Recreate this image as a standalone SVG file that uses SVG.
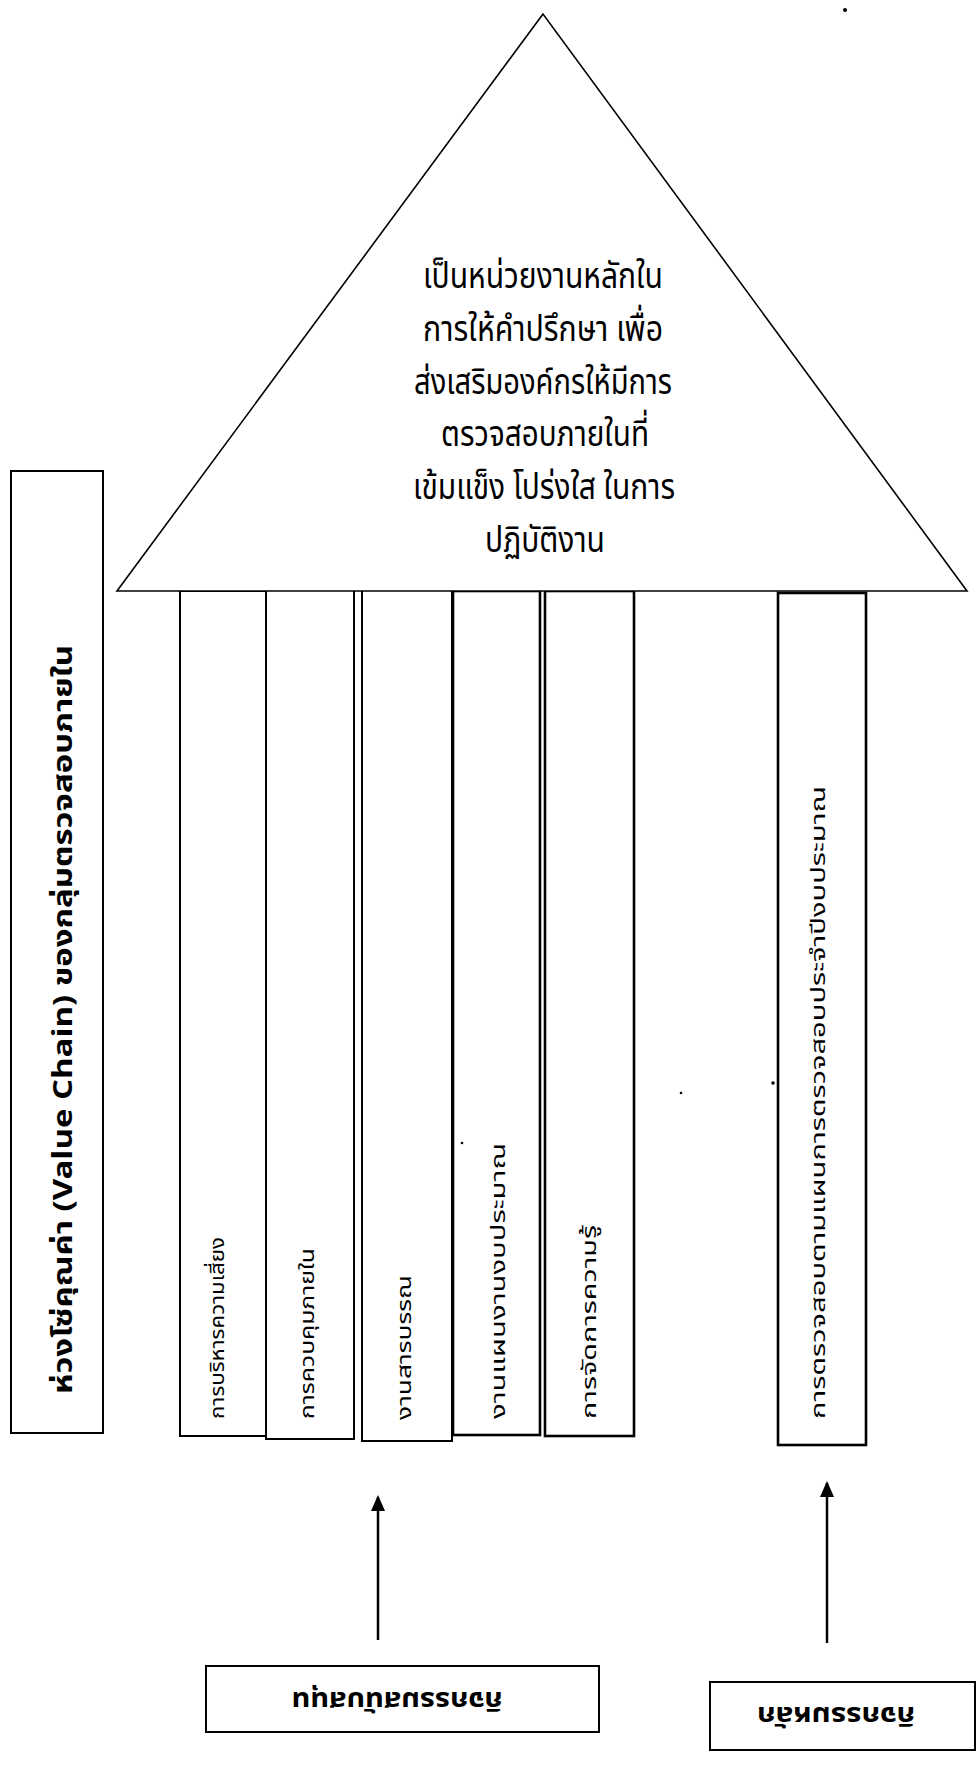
<svg xmlns="http://www.w3.org/2000/svg" width="980" height="1789" viewBox="0 0 980 1789">
<defs>
<style>
.shape{fill:#ffffff;stroke:#000000;stroke-width:2}
.thin{fill:#ffffff;stroke:#000000;stroke-width:1.6}
.t{font-family:"Noto Sans Thai","Noto Sans","DejaVu Sans",sans-serif;fill:#000000}
.tri{font-size:36px;text-anchor:middle;dominant-baseline:central}
.col{font-size:20px;text-anchor:start;dominant-baseline:central}
.side{font-size:27px;font-weight:bold;text-anchor:start;dominant-baseline:central}
.foot{font-size:27px;font-weight:bold;text-anchor:middle;dominant-baseline:central}
.conn{stroke:#000000;stroke-width:2.5;fill:none}
</style>
<marker id="arrow" markerWidth="16" markerHeight="16" refX="14" refY="8" orient="auto" markerUnits="userSpaceOnUse">
<path d="M0,1 L16,8 L0,15 Z" fill="#000000"/>
</marker>
</defs>
<rect width="980" height="1789" fill="#ffffff"/>

<g id="value-chain-label">
<rect class="shape" x="11" y="471" width="92" height="962"/>
<text class="t side" transform="translate(63,1394) rotate(-90)" textLength="749" lengthAdjust="spacingAndGlyphs">ห่วงโซ่คุณค่า (Value Chain) ของกลุ่มตรวจสอบภายใน</text>
</g>

<g id="col-risk">
<rect class="shape" x="180" y="591" width="86" height="845"/>
<text class="t col" transform="translate(218,1419) rotate(-90)" textLength="182" lengthAdjust="spacingAndGlyphs">การบริหารความเสี่ยง</text>
</g>
<g id="col-control">
<rect class="shape" x="266" y="589" width="88" height="850"/>
<text class="t col" transform="translate(308,1419) rotate(-90)" textLength="171" lengthAdjust="spacingAndGlyphs">การควบคุมภายใน</text>
</g>
<g id="col-saraban">
<rect class="shape" x="362" y="589" width="90" height="852"/>
<text class="t col" transform="translate(405,1420) rotate(-90)" textLength="145" lengthAdjust="spacingAndGlyphs">งานสารบรรณ</text>
</g>
<g id="col-plan">
<rect class="shape" x="453" y="591" width="87" height="844" style="stroke-width:2.6"/>
<text class="t col" transform="translate(499,1419) rotate(-90)" textLength="276" lengthAdjust="spacingAndGlyphs">งานแผนงานงบประมาณ</text>
</g>
<g id="col-knowledge">
<rect class="shape" x="545" y="591" width="89" height="845" style="stroke-width:2.6"/>
<text class="t col" transform="translate(590,1419) rotate(-90)" textLength="194" lengthAdjust="spacingAndGlyphs">การจัดการความรู้</text>
</g>
<g id="col-audit">
<rect class="shape" x="778" y="593" width="88" height="852" style="stroke-width:2.6"/>
<text class="t col" transform="translate(819,1419) rotate(-90)" textLength="633" lengthAdjust="spacingAndGlyphs">การตรวจสอบตามแผนการตรวจสอบประจำปีงบประมาณ</text>
</g>

<g id="roof">
<polygon class="thin" points="543,14 117,591 967,591"/>
<text class="t tri" x="543" y="277" textLength="240" lengthAdjust="spacingAndGlyphs">เป็นหน่วยงานหลักใน</text>
<text class="t tri" x="543" y="330" textLength="240" lengthAdjust="spacingAndGlyphs">การให้คำปรึกษา เพื่อ</text>
<text class="t tri" x="543" y="383" textLength="258" lengthAdjust="spacingAndGlyphs">ส่งเสริมองค์กรให้มีการ</text>
<text class="t tri" x="545" y="435" textLength="208" lengthAdjust="spacingAndGlyphs">ตรวจสอบภายในที่</text>
<text class="t tri" x="544" y="488" textLength="262" lengthAdjust="spacingAndGlyphs">เข้มแข็ง โปร่งใส ในการ</text>
<text class="t tri" x="545" y="541" textLength="120" lengthAdjust="spacingAndGlyphs">ปฏิบัติงาน</text>
</g>

<g id="support-activities">
<rect class="shape" x="206" y="1666" width="393" height="66"/>
<text class="t foot" transform="rotate(180,397,1700)" x="397" y="1700" textLength="211" lengthAdjust="spacingAndGlyphs">กิจกรรมสนับสนุน</text>
</g>
<g id="primary-activities">
<rect class="shape" x="710" y="1682" width="265" height="68"/>
<text class="t foot" transform="rotate(180,836,1715)" x="836" y="1715" textLength="158" lengthAdjust="spacingAndGlyphs">กิจกรรมหลัก</text>
</g>

<g id="connectors">
<line class="conn" x1="378" y1="1640" x2="378" y2="1497" marker-end="url(#arrow)"/>
<line class="conn" x1="827" y1="1643" x2="827" y2="1483" marker-end="url(#arrow)"/>
</g>

<g id="specks" fill="#000000">
<circle cx="845" cy="10" r="2"/>
<circle cx="773" cy="1083" r="1.8"/>
<circle cx="681" cy="1093" r="1.3"/>
<circle cx="462" cy="1143" r="1.3"/>
</g>
</svg>
